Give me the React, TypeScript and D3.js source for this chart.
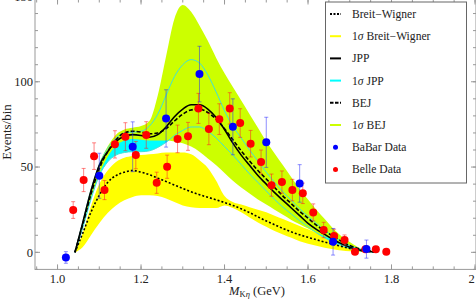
import React from "react";
import * as d3 from "d3";

const X_GRID = [1.0416, 1.06, 1.08, 1.10, 1.12, 1.14, 1.16, 1.18, 1.20, 1.22, 1.24, 1.26, 1.28, 1.30, 1.32, 1.34, 1.36, 1.38, 1.40, 1.42, 1.44, 1.46, 1.48, 1.50, 1.52, 1.54, 1.56, 1.58, 1.60, 1.62, 1.64, 1.66, 1.68, 1.70, 1.72, 1.74, 1.76];
const BW = [0, 11, 23.5, 33.5, 41, 45, 47, 48, 47, 45.5, 43.5, 41.5, 39.5, 37.5, 35.5, 33.8, 32.3, 30.8, 29.2, 27.5, 25.5, 23.3, 20.8, 18.4, 16.2, 14, 12, 10.3, 8.8, 7.4, 6, 4.7, 3.5, 2.3, 1.3, 0.6, 0.2];
const BW_LOW = [0, 3, 10, 17, 23, 27.5, 30.5, 32.5, 33.5, 33.5, 33, 31.5, 29.5, 27.5, 26.5, 26, 26, 26, 27.5, 26, 23.5, 20.5, 17.5, 15, 12.5, 10.5, 8.5, 6.5, 5, 3.8, 2.7, 1.8, 1.1, 0.6, 0.3, 0.1, 0];
const BW_HIGH = [0, 11, 27, 40, 48, 53, 55.5, 56.5, 57, 57.5, 58, 58.5, 58.5, 58.5, 57.5, 54, 49.5, 42, 33, 29.5, 28, 26.5, 25, 23.5, 21.5, 19.5, 17.5, 15.5, 13.5, 11.5, 9.5, 7.5, 5.5, 3.8, 2.3, 1.2, 0.4];
const JPP = [0, 17, 36, 51, 59, 65, 68, 69, 68.5, 67.5, 69, 73.5, 79.5, 84, 86.5, 86.5, 84, 79, 72, 64, 57, 51, 45, 40, 35, 30.5, 26, 21.5, 17, 13.5, 10.5, 7.5, 5, 3, 1.5, 0.6, 0.2];
const JPP_LOW = [0, 14, 31, 45, 53, 57, 58.5, 59, 59, 59.5, 61.5, 64.5, 68.5, 71.5, 73.5, 73.5, 71, 67, 62, 57, 51.5, 46, 41, 36, 31, 26.5, 22.5, 18.5, 15, 11.5, 8.5, 6, 4, 2.3, 1.1, 0.4, 0.1];
const JPP_HIGH = [0, 17.5, 36.5, 51.5, 61, 67, 70, 70.5, 71, 74, 81, 92, 103, 110, 113, 111, 104, 94, 83, 74, 67, 60, 53.5, 47, 41, 35.5, 30.5, 25.5, 21, 17, 13, 9.5, 6.5, 4, 2.2, 1, 0.3];
const BEJ = [0, 16, 34, 49, 59, 66, 70, 71, 70.5, 69.5, 70, 72.5, 77, 81, 83.5, 84, 82, 78, 72.5, 66, 59.5, 53.5, 48, 43, 38, 33, 28.5, 24, 20, 16, 12.5, 9.5, 6.5, 4, 2.3, 1.1, 0.4];
const BEJ_LOW = [0, 15, 32, 46, 56, 62.5, 65.5, 66.5, 66, 65.5, 65.5, 65.5, 65, 64, 62, 59, 55, 51, 46.5, 42, 38, 34.5, 31, 28, 25, 22, 19, 16.5, 14, 11.5, 9.5, 7.5, 5.5, 4, 2.6, 1.5, 0.6];
const BEJ_HIGH = [0, 18, 37, 52, 62, 69, 72, 73, 74, 77, 92, 115, 137, 145, 141, 133, 124, 114, 105, 97, 89, 81, 73, 65, 58, 51, 44, 37, 31, 25, 19.5, 14, 9.5, 6, 3, 1.2, 0.2];

const BABAR_X = [1.02, 1.10, 1.18, 1.26, 1.34, 1.42, 1.50, 1.58, 1.66, 1.74];
const BABAR_Y = [-3, 44.9, 61.9, 78.5, 104.5, 73.6, 64.5, 40.4, 6.2, 1.9];
const BABAR_ERR = [3.4, 13.2, 14.6, 16.8, 16.3, 16.4, 14.7, 11, 7.8, 5.3];

const BELLE_X = [1.0375, 1.0625, 1.0875, 1.1125, 1.1375, 1.1625, 1.1875, 1.2125, 1.2375, 1.2625, 1.2875, 1.3125, 1.3375, 1.3625, 1.3875, 1.4125, 1.4375, 1.4625, 1.4875, 1.5125, 1.5375, 1.5625, 1.5875, 1.6125, 1.6375, 1.6625, 1.6875, 1.7125, 1.7375, 1.7625, 1.7875];
const BELLE_Y = [24.8, 42.4, 56.4, 36.5, 63.3, 67.8, 57, 68.8, 40.8, 50.2, 66.5, 68, 84.4, 72.3, 78.1, 84.4, 75.8, 63.7, 53, 39.4, 41.2, 36.5, 34.6, 23.4, 13.1, 9.6, 7.2, 0.4, 1.8, 1.8, 0.4];
const BELLE_ERR = [4.9, 6.8, 7.8, 5.6, 8, 8.2, 8, 7.8, 6.2, 6.8, 8.1, 8.2, 8.8, 9.2, 9, 9.2, 8.4, 7.8, 7, 6.5, 6.5, 6.3, 6, 5, 4.5, 4, 3, 1, 1, 1, 1];

const X_TICKS = [1.0, 1.2, 1.4, 1.6, 1.8, 2.0];
const X_TICK_LABELS = ["1.0", "1.2", "1.4", "1.6", "1.8", "2"];
const Y_TICKS = [0, 50, 100, 150];
const Y_TICK_LABELS = ["0", "50", "100", "150"];
const LEGEND_LABELS = ["Breit\u2212Wigner", "1\u03c3 Breit\u2212Wigner", "JPP", "1\u03c3 JPP", "BEJ", "1\u03c3 BEJ", "BaBar Data", "Belle Data"];

const FONT = "'Liberation Serif', 'DejaVu Serif', serif";
const YELLOW = "#ffff00";
const CYAN = "#00ffff";
const CYAN_LINE = "#40e0d8";
const GREEN = "#ccff00";

export default function App() {
  const W = 476, H = 300;
  const x = d3.scaleLinear().domain([0.946, 2.0]).range([35, 475]);
  const y = d3.scaleLinear().domain([-10, 148]).range([269.4, -0.1]);
  const left = 35, bottom = 269.4, right = 476, top = -0.5;

  const idx = X_GRID.map((_, i) => i);
  const lineOf = (arr: number[]) =>
    d3.line<number>().x((i) => x(X_GRID[i])).y((i) => y(arr[i])).curve(d3.curveMonotoneX)(idx) || "";
  const areaOf = (lo: number[], hi: number[]) =>
    d3.area<number>().x((i) => x(X_GRID[i])).y0((i) => y(lo[i])).y1((i) => y(hi[i])).curve(d3.curveMonotoneX)(idx) || "";

  const xMinor = d3.range(0.95, 2.001, 0.05);
  const yMinor = d3.range(-10, 148, 10);

  const legendY = (i: number) => 14 + i * 22.2;

  return (
    <svg width={W} height={H} style={{ position: "absolute", left: 0, top: 0, background: "#fff" }} fontFamily={FONT}>
      <defs>
        <clipPath id="plot">
          <rect x={left} y={top} width={right - left} height={bottom - top} />
        </clipPath>
      </defs>
      <g clipPath="url(#plot)">
        <path d={areaOf(BW_LOW, BW_HIGH)} fill={YELLOW} />
        <path d={areaOf(JPP_LOW, JPP_HIGH)} fill={CYAN} />
        <path d={areaOf(BEJ_LOW, BEJ_HIGH)} fill={GREEN} />
        <path d={lineOf(JPP_LOW)} fill="none" stroke={CYAN_LINE} strokeWidth={1} />
        <path d={lineOf(JPP_HIGH)} fill="none" stroke={CYAN_LINE} strokeWidth={1} />
        <path d={lineOf(BW)} fill="none" stroke="#000" strokeWidth={1.6} strokeDasharray="2,2" />
        <path d={lineOf(JPP)} fill="none" stroke="#000" strokeWidth={1.6} />
        <path d={lineOf(BEJ)} fill="none" stroke="#000" strokeWidth={1.6} strokeDasharray="4,2" />
        {BELLE_X.map((v, i) => (
          <g key={"be" + i} stroke="#ff2020" strokeOpacity={0.55} strokeWidth={1}>
            <line x1={x(v)} x2={x(v)} y1={y(BELLE_Y[i] - BELLE_ERR[i])} y2={y(BELLE_Y[i] + BELLE_ERR[i])} />
            <line x1={x(v) - 2} x2={x(v) + 2} y1={y(BELLE_Y[i] - BELLE_ERR[i])} y2={y(BELLE_Y[i] - BELLE_ERR[i])} />
            <line x1={x(v) - 2} x2={x(v) + 2} y1={y(BELLE_Y[i] + BELLE_ERR[i])} y2={y(BELLE_Y[i] + BELLE_ERR[i])} />
          </g>
        ))}
        {BABAR_X.map((v, i) => (
          <g key={"ba" + i} stroke="#2020ff" strokeOpacity={0.5} strokeWidth={1}>
            <line x1={x(v)} x2={x(v)} y1={y(BABAR_Y[i] - BABAR_ERR[i])} y2={y(BABAR_Y[i] + BABAR_ERR[i])} />
            <line x1={x(v) - 2} x2={x(v) + 2} y1={y(BABAR_Y[i] - BABAR_ERR[i])} y2={y(BABAR_Y[i] - BABAR_ERR[i])} />
            <line x1={x(v) - 2} x2={x(v) + 2} y1={y(BABAR_Y[i] + BABAR_ERR[i])} y2={y(BABAR_Y[i] + BABAR_ERR[i])} />
          </g>
        ))}
        {BELLE_X.map((v, i) => (
          <circle key={"bp" + i} cx={x(v)} cy={y(BELLE_Y[i])} r={4} fill="#ff0000" />
        ))}
        {BABAR_X.map((v, i) => (
          <circle key={"bap" + i} cx={x(v)} cy={y(BABAR_Y[i])} r={4} fill="#0000ff" />
        ))}
      </g>

      {/* frame */}
      <rect x={left} y={top} width={right - left} height={bottom - top} fill="none" stroke="#999" strokeWidth={1} />
      {X_TICKS.map((t) => (
        <g key={"xt" + t}>
          <line x1={x(t)} x2={x(t)} y1={bottom} y2={bottom - 5} stroke="#999" />
          <line x1={x(t)} x2={x(t)} y1={top} y2={top + 5} stroke="#999" />
        </g>
      ))}
      {xMinor.map((t, i) => (
        <g key={"xm" + i}>
          <line x1={x(t)} x2={x(t)} y1={bottom} y2={bottom - 3} stroke="#999" />
          <line x1={x(t)} x2={x(t)} y1={top} y2={top + 3} stroke="#999" />
        </g>
      ))}
      {Y_TICKS.map((t) => (
        <g key={"yt" + t}>
          <line x1={left} x2={left + 5} y1={y(t)} y2={y(t)} stroke="#999" />
          <line x1={right} x2={right - 5} y1={y(t)} y2={y(t)} stroke="#999" />
        </g>
      ))}
      {yMinor.map((t, i) => (
        <g key={"ym" + i}>
          <line x1={left} x2={left + 3} y1={y(t)} y2={y(t)} stroke="#999" />
          <line x1={right} x2={right - 3} y1={y(t)} y2={y(t)} stroke="#999" />
        </g>
      ))}
      {X_TICKS.map((t, i) => (
        <text key={"xl" + t} x={t === 2 ? 471.5 : x(t)} y={283} textAnchor="middle" fontSize={12.5} fill="#222">
          {X_TICK_LABELS[i]}
        </text>
      ))}
      {Y_TICKS.map((t, i) => (
        <text key={"yl" + t} x={33} y={y(t) + 4.3} textAnchor="end" fontSize={12.5} fill="#222">
          {Y_TICK_LABELS[i]}
        </text>
      ))}
      <text transform="translate(10.5,132) rotate(-90)" textAnchor="middle" fontSize={13} fill="#222">
        Events/bin
      </text>
      <text x={257} y={295} textAnchor="middle" fontSize={12.5} fill="#222">
        <tspan fontStyle="italic">M</tspan>
        <tspan fontSize={8.5} dy={2}>K</tspan>
        <tspan fontSize={8.5} fontStyle="italic">{"\u03b7"}</tspan>
        <tspan dy={-2}> (GeV)</tspan>
      </text>

      {/* legend */}
      <rect x={325.5} y={2} width={141} height={181} fill="#fff" stroke="#666" strokeWidth={1} />
      {LEGEND_LABELS.map((lab, i) => {
        const ly = legendY(i);
        let sym: React.ReactNode = null;
        if (i === 0) sym = <line x1={330} x2={341} y1={ly} y2={ly} stroke="#000" strokeWidth={2} strokeDasharray="2,1.5" />;
        if (i === 1) sym = <line x1={330} x2={341} y1={ly} y2={ly} stroke={YELLOW} strokeWidth={2} />;
        if (i === 2) sym = <line x1={330} x2={341} y1={ly} y2={ly} stroke="#000" strokeWidth={2} />;
        if (i === 3) sym = <line x1={330} x2={341} y1={ly} y2={ly} stroke={CYAN} strokeWidth={2} />;
        if (i === 4) sym = <line x1={330} x2={341} y1={ly} y2={ly} stroke="#000" strokeWidth={2} strokeDasharray="3.5,1.5" />;
        if (i === 5) sym = <line x1={330} x2={341} y1={ly} y2={ly} stroke={GREEN} strokeWidth={2} />;
        if (i === 6) sym = <circle cx={335.5} cy={ly} r={2.5} fill="#0000ff" />;
        if (i === 7) sym = <circle cx={335.5} cy={ly} r={2.5} fill="#ff0000" />;
        const parts = lab.startsWith("1\u03c3") ? (
          <>
            1<tspan fontStyle="italic">{"\u03c3"}</tspan>
            {lab.slice(2)}
          </>
        ) : (
          lab
        );
        return (
          <g key={"lg" + i}>
            {sym}
            <text x={352} y={ly + 4} fontSize={11.6} fill="#222">
              {parts}
            </text>
          </g>
        );
      })}
    </svg>
  );
}
